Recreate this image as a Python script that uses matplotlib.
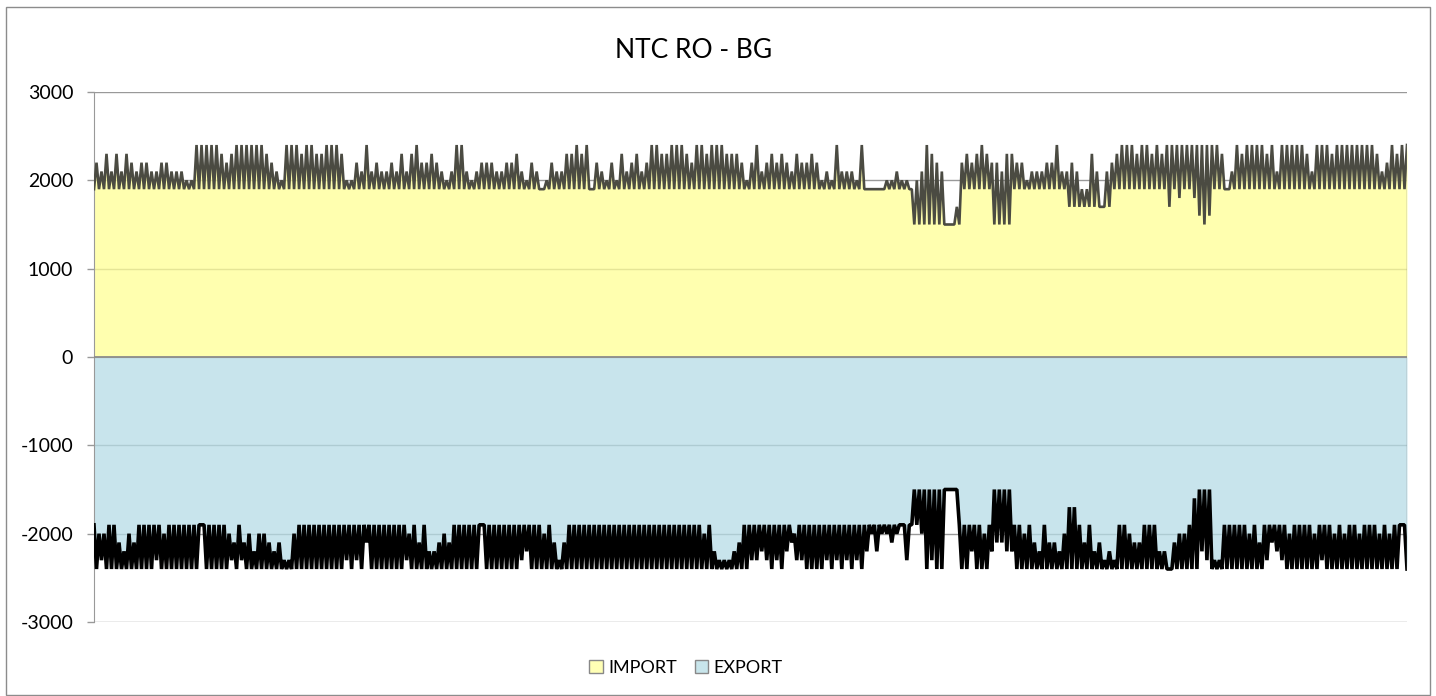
import numpy as np
import matplotlib
matplotlib.use('Agg')
import matplotlib.pyplot as plt
from matplotlib.patches import Patch, Rectangle

# one reading every ~5 px across the plot, as a digit d -> 1500 + 100*d MW
IMPORT_PEAK = ("76868687677667766655"
               "99999878999999876599"
               "98998899985576967667"
               "68689778765699656777"
               "66778657"
               "645766889894"
               "76575867867998899987"
               "99899988875796787876"
               "87787565966659444455"
               "65545698760027878"
               "98776887756667796676448"
               "62678999899898999999"
               "99999846989999896999"
               "99869998999999998679899")

# import floor, as (count of readings, MW)
IMPORT_BASE = [(164, 1900), (10, 1500), (6, 1900), (4, 1500), (11, 1900),
               (9, 1700), (11, 1900), (1, 1700), (1, 1900), (1, 1800),
               (2, 1900), (1, 1800), (1, 1600), (1, 1500), (1, 1600),
               (39, 1900)]

# export, magnitude digits: top = closest to zero, bottom = deepest
EXPORT_TOP = ("45544675644444544444"
              "44444445646575567688"
              "54444444444444444444"
              "44454647765644444444"
              "44444444"
              "445468644444"
              "44444444444444444444"
              "44547888764444444444"
              "54444444444444444444"
              "44440000000004444"
              "45400004454674667522464"
              "76878445664447796554"
              "10008844444546444445"
              "44445444545445444545444")

EXPORT_BOTTOM = ("98999999999989999999"
                 "94999998989999999999"
                 "99999999998989699999"
                 "99899999999999999499"
                 "99999879"
                 "999999999999"
                 "99999999999999999999"
                 "99999999999887898976"
                 "88999989898989757556"
                 "54844598990009979"
                 "99766779999999999999999"
                 "99999999999999999999"
                 "97899999999999867899"
                 "99999899999999999999949")

TICKS = [-3000, -2000, -1000, 0, 1000, 2000, 3000]

YELLOW = (1.0, 1.0, 149 / 255)
BLUE = (182 / 255, 220 / 255, 230 / 255)


def digits_to_mw(s):
    return np.array([1500 + 100 * int(c) for c in s], dtype=float)


def runs_to_mw(runs):
    return np.concatenate([np.full(n, v, dtype=float) for n, v in runs])


def plot_ntc():
    peak = digits_to_mw(IMPORT_PEAK)
    base = runs_to_mw(IMPORT_BASE)
    top = digits_to_mw(EXPORT_TOP)
    bottom = digits_to_mw(EXPORT_BOTTOM)
    n = min(len(peak), len(base), len(top), len(bottom))

    imp = np.empty(2 * n)
    imp[0::2] = base[:n]
    imp[1::2] = peak[:n]
    exp = np.empty(2 * n)
    exp[0::2] = -top[:n]
    exp[1::2] = -bottom[:n]
    x = np.arange(2 * n)

    plt.rcParams['font.family'] = ['Lato', 'DejaVu Sans']
    fig = plt.figure(figsize=(14.36, 6.96), dpi=100)
    ax = fig.add_axes([94 / 1436, 1 - 622 / 696, (1407 - 94) / 1436, (622 - 92) / 696])

    ax.fill_between(x, 0, imp, color=YELLOW, alpha=0.75, lw=0, zorder=2)
    ax.fill_between(x, 0, exp, color=BLUE, alpha=0.75, lw=0, zorder=2)
    ax.plot(x, imp, color='#4b4b42', lw=1.9, zorder=3, solid_joinstyle='bevel')
    ax.plot(x, exp, color='black', lw=2.6, zorder=3, solid_joinstyle='bevel')
    ax.plot([x[-1], x[-1]], [exp[-1], imp[-1]], color='#8c8c8c', lw=1, zorder=3)
    ax.axhline(0, color='#8c8c8c', lw=1.3, zorder=4)

    ax.set_xlim(0, x[-1])
    ax.set_ylim(-3000, 3000)
    ax.set_yticks(TICKS)
    ax.set_yticklabels([str(t) for t in TICKS])
    ax.set_xticks([])
    ax.set_axisbelow(True)
    ax.yaxis.grid(True, color='#999999', lw=1)
    ax.tick_params(axis='y', length=5, width=1, color='#999999', pad=10, labelsize=14)
    for s in ['top', 'right', 'bottom']:
        ax.spines[s].set_visible(False)
    ax.spines['left'].set_color('#999999')

    fig.text(694 / 1436, 1 - 50 / 696, 'NTC RO - BG', ha='center', va='center', fontsize=19)

    handles = [Patch(facecolor='#ffffb5', edgecolor='#888888', label='IMPORT'),
               Patch(facecolor='#c8e5eb', edgecolor='#888888', label='EXPORT')]
    fig.legend(handles=handles, loc='center', bbox_to_anchor=(686 / 1436, 1 - 668 / 696),
               ncol=2, frameon=False, fontsize=13, handlelength=0.75, handleheight=0.75,
               handletextpad=0.3, columnspacing=1.0)

    fig.patches.append(Rectangle((6 / 1436, 1 / 696), 1424 / 1436, 688 / 696,
                                 transform=fig.transFigure, fill=False,
                                 edgecolor='#8c8c8c', lw=1))
    fig.savefig('out.png', dpi=100)


if __name__ == "__main__":
    plot_ntc()
